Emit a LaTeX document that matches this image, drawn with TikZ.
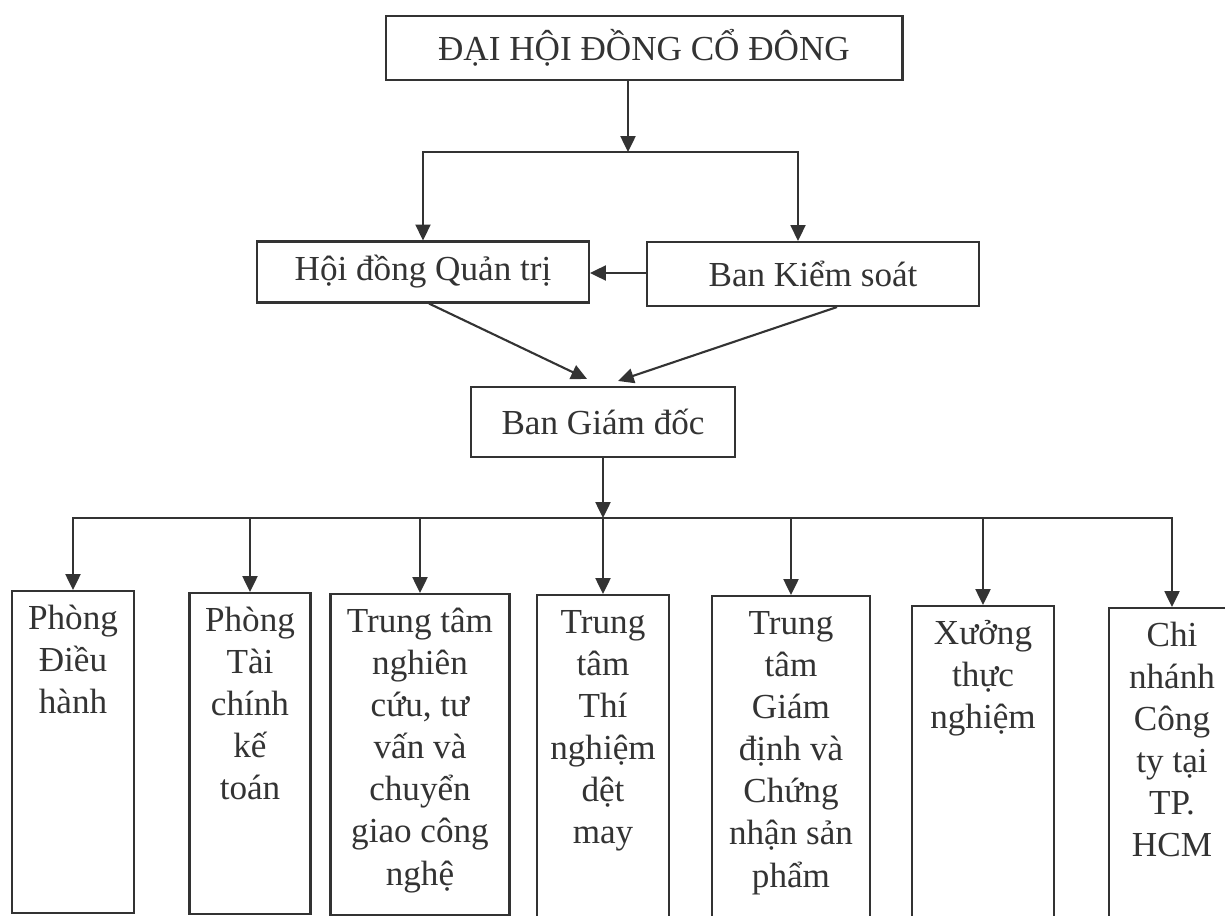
\documentclass[tikz,border=0pt]{standalone}
\usepackage{fontspec}
\setmainfont{Liberation Serif}
\usetikzlibrary{arrows.meta}
\definecolor{ink}{HTML}{333333}

\begin{document}
\begin{tikzpicture}[
    x=0.02cm, y=-0.02cm,
    box/.style={rectangle, draw=ink, line width=1.2pt, text=ink, inner sep=0pt, align=center, font=\fontsize{20pt}{24pt}\selectfont},
    unit/.style={box, anchor=north},
    unittext/.style={anchor=north, inner sep=0pt, yshift=-6pt, align=center, text=ink, font=\fontsize{20pt}{24pt}\selectfont},
    line/.style={draw=ink, line width=1.2pt},
    arrow/.style={line, -{Triangle[width=8.5pt, length=9pt]}}
]
\useasboundingbox (0,0) rectangle (1225,916);

% Upper levels
\node[box, minimum width=10.34cm, minimum height=1.28cm] (dhdcd) at (644,48) {ĐẠI HỘI ĐỒNG CỔ ĐÔNG};
\node[box, minimum width=6.64cm, minimum height=1.22cm] (hdqt) at (423,272) {Hội đồng Quản trị};
\node[box, minimum width=6.64cm, minimum height=1.28cm] (bks) at (813,274) {Ban Kiểm soát};
\node[box, minimum width=5.28cm, minimum height=1.4cm] (bgd) at (603,422) {Ban Giám đốc};

% Arrows for upper levels
\coordinate (split) at (628,152);
\draw[arrow] (dhdcd.south -| split) -- (split);
\draw[arrow] (split) -| (hdqt.north);
\draw[arrow] (split) -| ([xshift=-0.3cm]bks.north);
\draw[arrow] ([yshift=0.02cm]bks.west) -- ([yshift=0.02cm]bks.west -| hdqt.east);
\draw[arrow] ([xshift=0.12cm]hdqt.south) -- ([xshift=-0.32cm,yshift=0.14cm]bgd.north);
\draw[arrow] ([xshift=0.48cm]bks.south) -- ([xshift=0.3cm,yshift=0.1cm]bgd.north);

% Departments (boxes)
\node[unit, minimum width=2.44cm, minimum height=6.44cm] (p_dh) at (73,590) {};
\node[unit, minimum width=2.42cm, minimum height=6.42cm] (p_tc) at (250,592) {};
\node[unit, minimum width=3.58cm, minimum height=6.42cm] (tt_nc) at (420,593) {};
\node[unit, minimum width=2.64cm, minimum height=6.62cm] (tt_tn) at (603,594) {};
\node[unit, minimum width=3.16cm, minimum height=6.6cm] (tt_gd) at (791,595) {};
\node[unit, minimum width=2.84cm, minimum height=6.4cm] (x_tn) at (983,605) {};
\node[unit, minimum width=2.52cm, minimum height=6.36cm] (cn_hcm) at (1172,607) {};

% Departments (texts)
\node[unittext] (p_dh_txt) at (p_dh.north) {\rule{0pt}{16pt}Phòng\\Điều\\hành};
\node[unittext] (p_tc_txt) at (p_tc.north) {\rule{0pt}{16pt}Phòng\\Tài\\chính\\kế\\toán};
\node[unittext] (tt_nc_txt) at (tt_nc.north) {\rule{0pt}{16pt}Trung tâm\\nghiên\\cứu, tư\\vấn và\\chuyển\\giao công\\nghệ};
\node[unittext] (tt_tn_txt) at (tt_tn.north) {\rule{0pt}{16pt}Trung\\tâm\\Thí\\nghiệm\\dệt\\may};
\node[unittext] (tt_gd_txt) at (tt_gd.north) {\rule{0pt}{16pt}Trung\\tâm\\Giám\\định và\\Chứng\\nhận sản\\phẩm};
\node[unittext] (x_tn_txt) at (x_tn.north) {\rule{0pt}{16pt}Xưởng\\thực\\nghiệm};
\node[unittext] (cn_hcm_txt) at (cn_hcm.north) {\rule{0pt}{16pt}Chi\\nhánh\\Công\\ty tại\\TP.\\HCM};

% Arrows for departments
\coordinate (bus) at (603,518);
\draw[arrow] (bgd.south) -- (bus);
\draw[arrow] (bus) -| (p_dh.north);
\draw[arrow] (bus) -| (p_tc.north);
\draw[arrow] (bus) -| (tt_nc.north);
\draw[arrow] (bus) -- (tt_tn.north);
\draw[arrow] (bus) -| (tt_gd.north);
\draw[arrow] (bus) -| (x_tn.north);
\draw[arrow] (bus) -| (cn_hcm.north);

\end{tikzpicture}
\end{document}
